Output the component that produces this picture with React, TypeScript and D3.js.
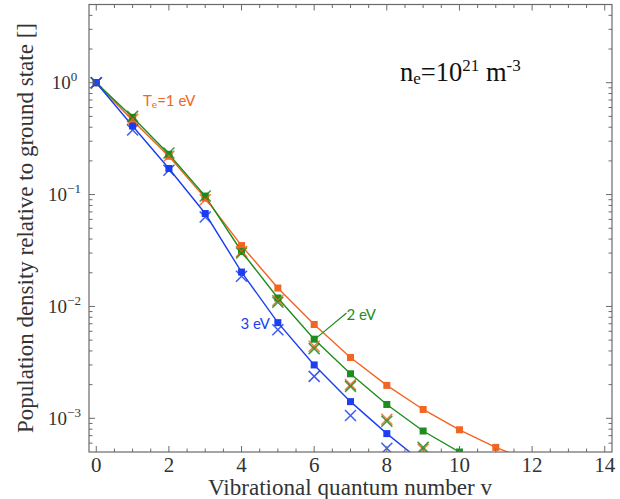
import React from "react";
import * as d3 from "d3";

const vLevels = [0, 1, 2, 3, 4, 5, 6, 7, 8, 9, 10, 11, 12];
// model curves (squares + lines)
const model1eV = [1, 0.46, 0.22, 0.093, 0.035, 0.0146, 0.0069, 0.0035, 0.00197, 0.0012, 0.00079, 0.00055, 0.00041];
const model2eV = [1, 0.49, 0.229, 0.097, 0.031, 0.0119, 0.0051, 0.0025, 0.00133, 0.00077, 0.0005, 0.00031];
const model3eV = [1, 0.41, 0.171, 0.0677, 0.0203, 0.00716, 0.003, 0.00141, 0.00073, 0.0004];
// cross markers
const cross1eV = [1, 0.47, 0.22, 0.09, 0.031, 0.0113, 0.0044, 0.002, 0.00098, 0.00053];
const cross2eV = [1, 0.5, 0.235, 0.097, 0.03, 0.0109, 0.0042, 0.00193, 0.00094, 0.00055];
const cross3eV = [1, 0.377, 0.165, 0.063, 0.0186, 0.0062, 0.00237, 0.00106, 0.00054];

const xMajor = [0, 2, 4, 6, 8, 10, 12, 14];
const yMajorExp = [-3, -2, -1, 0];

const ORANGE = "#f26522";
const GREEN = "#1e8c1e";
const BLUE = "#1d3ff0";
const FRAME = "#6a6a6a";

const W = 620, H = 499;
const L = 89, R = 612, T = 4.5, B = 452;

export default function App() {
  const x = d3.scaleLinear().domain([-0.2, 14.2]).range([L, R]);
  const y = d3.scaleLog().domain([5e-4, 5]).range([B, T]);

  const line = d3.line<number>()
    .x((_, i) => x(vLevels[i]))
    .y((d) => y(d));

  const xMinor = d3.range(0, 14.01, 0.5).filter((v) => !xMajor.includes(v));
  const yMinor: number[] = [];
  for (let k = -4; k <= 0; k++) for (let m = 2; m <= 9; m++) {
    const val = m * Math.pow(10, k);
    if (val > 5e-4 && val < 5) yMinor.push(val);
  }

  const series = [
    { model: model1eV, cross: cross1eV, color: ORANGE },
    { model: model2eV, cross: cross2eV, color: GREEN },
    { model: model3eV, cross: cross3eV, color: BLUE },
  ];

  const sq = 7;
  const cx = 5.5;
  const serif = "'Liberation Serif', 'Times New Roman', serif";
  const sans = "Lato, 'Noto Sans', sans-serif";

  return (
    <svg width={W} height={H} style={{ position: "absolute", left: 0, top: 0, background: "#fff" }}>
      <defs>
        <clipPath id="plotclip">
          <rect x={L} y={T} width={R - L} height={B - T} />
        </clipPath>
      </defs>
      <rect x={0} y={0} width={W} height={H} fill="#fff" />

      <g clipPath="url(#plotclip)">
        {series.map((s, si) => (
          <path key={"l" + si} d={line(s.model) || ""} fill="none" stroke={s.color} strokeWidth={1.4} />
        ))}
        {series.map((s, si) => (
          <g key={"s" + si}>
            {s.model.map((d, i) => (
              <rect key={i} x={x(vLevels[i]) - sq / 2} y={y(d) - sq / 2} width={sq} height={sq} fill={s.color} />
            ))}
          </g>
        ))}
        {series.map((s, si) => (
          <g key={"c" + si} stroke={s.color} strokeWidth={1.5} opacity={0.85}>
            {s.cross.map((d, i) => {
              const px = x(vLevels[i]), py = y(d);
              return (
                <g key={i}>
                  <line x1={px - cx} y1={py - cx} x2={px + cx} y2={py + cx} />
                  <line x1={px - cx} y1={py + cx} x2={px + cx} y2={py - cx} />
                </g>
              );
            })}
          </g>
        ))}
      </g>

      {/* frame */}
      <rect x={L} y={T} width={R - L} height={B - T} fill="none" stroke={FRAME} strokeWidth={1.2} />

      {/* ticks */}
      <g stroke={FRAME} strokeWidth={1}>
        {xMajor.map((v) => (
          <g key={"xm" + v}>
            <line x1={x(v)} x2={x(v)} y1={B} y2={B - 6} />
            <line x1={x(v)} x2={x(v)} y1={T} y2={T + 6} />
          </g>
        ))}
        {xMinor.map((v) => (
          <g key={"xn" + v}>
            <line x1={x(v)} x2={x(v)} y1={B} y2={B - 3.5} />
            <line x1={x(v)} x2={x(v)} y1={T} y2={T + 3.5} />
          </g>
        ))}
        {yMajorExp.map((e) => (
          <g key={"ym" + e}>
            <line x1={L} x2={L + 6} y1={y(Math.pow(10, e))} y2={y(Math.pow(10, e))} />
            <line x1={R} x2={R - 6} y1={y(Math.pow(10, e))} y2={y(Math.pow(10, e))} />
          </g>
        ))}
        {yMinor.map((v, i) => (
          <g key={"yn" + i}>
            <line x1={L} x2={L + 3.5} y1={y(v)} y2={y(v)} />
            <line x1={R} x2={R - 3.5} y1={y(v)} y2={y(v)} />
          </g>
        ))}
      </g>

      {/* x tick labels */}
      <g fontFamily={serif} fontSize={21} fill="#333" textAnchor="middle">
        {xMajor.map((v) => (
          <text key={"xl" + v} x={x(v)} y={B + 19.5}>{v}</text>
        ))}
      </g>

      {/* y tick labels */}
      <g fontFamily={serif} fontSize={19} fill="#333" textAnchor="middle">
        {yMajorExp.map((e) => (
          <text key={"yl" + e} x={64.5} y={y(Math.pow(10, e)) + 6.5}>
            10<tspan fontSize={13} dy={-8}>{e === 0 ? "0" : "\u2212" + Math.abs(e)}</tspan>
          </text>
        ))}
      </g>

      {/* axis titles */}
      <text x={(208 + 492) / 2} y={495} fontFamily={serif} fontSize={22.5} fill="#333" textAnchor="middle"
        textLength={284} lengthAdjust="spacingAndGlyphs">
        Vibrational quantum number v
      </text>
      <text transform={`translate(33, 228) rotate(-90)`} fontFamily={serif} fontSize={23} fill="#333"
        textAnchor="middle" textLength={410} lengthAdjust="spacingAndGlyphs">
        Population density relative to ground state []
      </text>

      {/* density annotation */}
      <text x={400} y={81} fontFamily={serif} fontSize={26.5} fill="#111">
        n<tspan fontSize={17} dy={3}>e</tspan>
        <tspan dy={-3}>=10</tspan>
        <tspan fontSize={17} dy={-10}>21</tspan>
        <tspan dy={10}> m</tspan>
        <tspan fontSize={17} dy={-10}>-3</tspan>
      </text>

      {/* series labels */}
      <text x={143} y={106} fontFamily={sans} fontSize={15} fill={ORANGE}>
        T<tspan fontSize={10} dy={2}>e</tspan><tspan dy={-2}>=1 eV</tspan>
      </text>
      <text x={240.5} y={328.5} fontFamily={sans} fontSize={15} fill={BLUE}>3 eV</text>
      <text x={346.5} y={319.5} fontFamily={sans} fontSize={15} fill={GREEN}>2 eV</text>
      <line x1={x(6) + 2} y1={y(model2eV[6]) - 1} x2={346.5} y2={313} stroke={GREEN} strokeWidth={1.2} />
    </svg>
  );
}
